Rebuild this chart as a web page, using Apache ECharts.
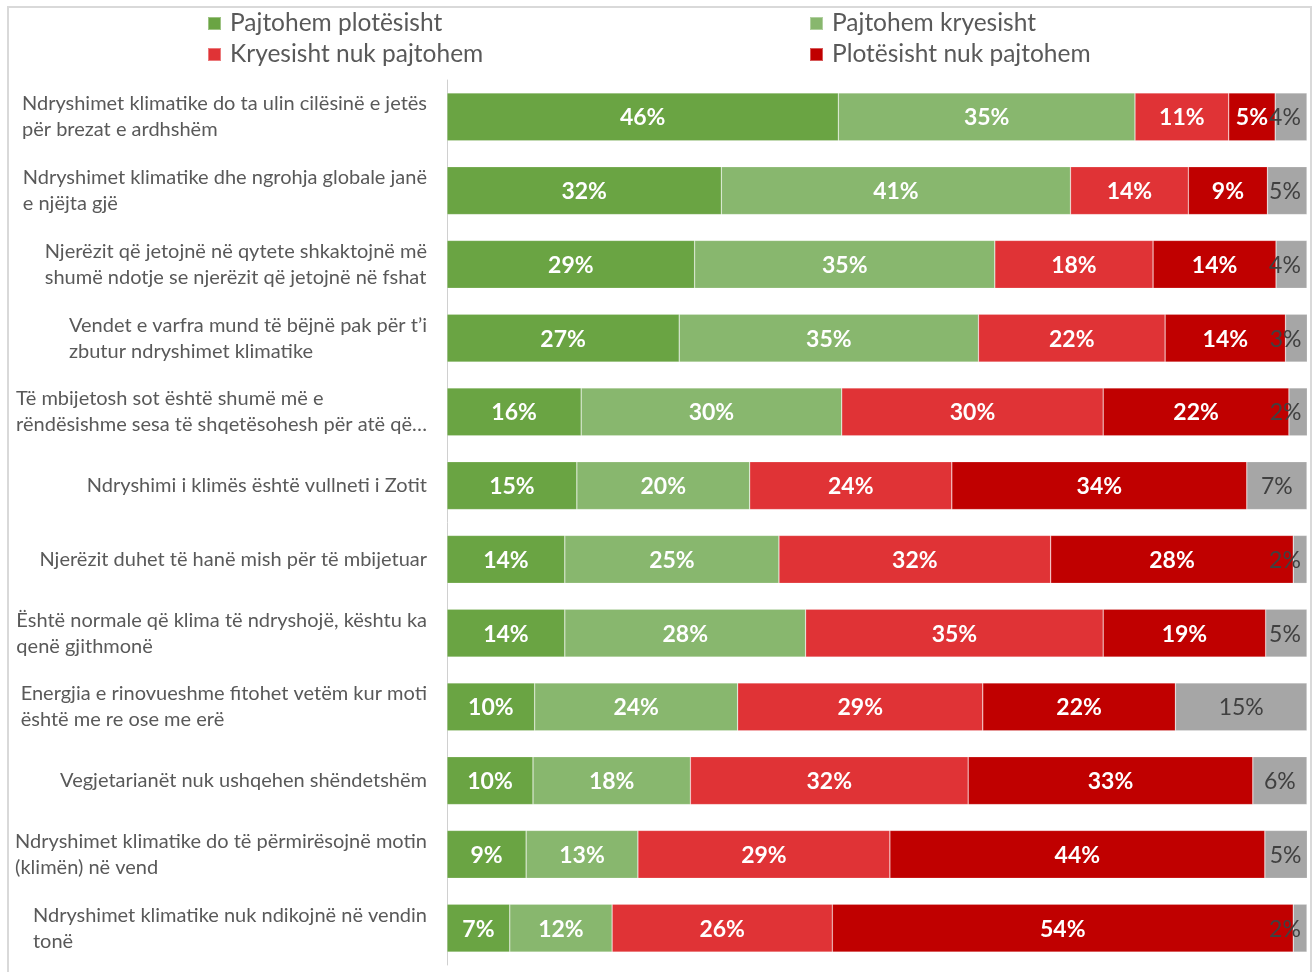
<!DOCTYPE html>
<html>
<head>
<meta charset="utf-8">
<script src="https://cdn.jsdelivr.net/npm/echarts@6/dist/echarts.min.js"></script>
<style>
html,body{margin:0;padding:0;background:#fff;}
#chart{width:1312px;height:972px;}
</style>
</head>
<body>
<div id="chart"></div>
<script>
const categories = [
  "Ndryshimet klimatike do ta ulin cilësinë e jetës\npër brezat e ardhshëm",
  "Ndryshimet klimatike dhe ngrohja globale janë\ne njëjta gjë",
  "Njerëzit që jetojnë në qytete shkaktojnë më\nshumë ndotje se njerëzit që jetojnë në fshat",
  "Vendet e varfra mund të bëjnë pak për t’i\nzbutur ndryshimet klimatike",
  "Të mbijetosh sot është shumë më e\nrëndësishme sesa të shqetësohesh për atë që…",
  "Ndryshimi i klimës është vullneti i Zotit",
  "Njerëzit duhet të hanë mish për të mbijetuar",
  "Është normale që klima të ndryshojë, kështu ka\nqenë gjithmonë",
  "Energjia e rinovueshme fitohet vetëm kur moti\nështë me re ose me erë",
  "Vegjetarianët nuk ushqehen shëndetshëm",
  "Ndryshimet klimatike do të përmirësojnë motin\n(klimën) në vend",
  "Ndryshimet klimatike nuk ndikojnë në vendin\ntonë"
];
const seriesNames = ["Pajtohem plotësisht", "Pajtohem kryesisht", "Kryesisht nuk pajtohem", "Plotësisht nuk pajtohem", "Pa përgjigje"];
const pajtohemPlotesisht   = [45.5, 31.9, 28.8, 27.0, 15.6, 15.1, 13.7, 13.7, 10.2, 10.0, 9.2, 7.3];
const pajtohemKryesisht    = [34.5, 40.6, 34.9, 34.8, 30.3, 20.1, 24.9, 28.0, 23.6, 18.3, 13.0, 11.9];
const kryesishtNukPajtohem = [10.9, 13.7, 18.4, 21.7, 30.4, 23.5, 31.6, 34.6, 28.5, 32.3, 29.3, 25.6];
const plotesishtNukPajtohem= [5.4, 9.2, 14.3, 14.0, 21.6, 34.3, 28.2, 18.9, 22.4, 33.1, 43.6, 53.6];
const paPergjigje          = [3.7, 4.6, 3.6, 2.6, 2.2, 7.0, 1.6, 4.8, 15.3, 6.3, 5.0, 1.6];

const colors = ["#6aa443", "#88b76e", "#e03336", "#c00000", "#a6a6a6"];
const allData = [pajtohemPlotesisht, pajtohemKryesisht, kryesishtNukPajtohem, plotesishtNukPajtohem, paPergjigje];

const FONT = "Lato";
const chart = echarts.init(document.getElementById('chart'), null, {renderer: 'canvas'});

const legendPos = [[207, 11], [809, 11], [207, 42], [809, 42]];
const legends = legendPos.map((p, i) => ({
  data: [seriesNames[i]],
  left: p[0], top: p[1], padding: 0,
  icon: 'rect', itemWidth: 13, itemHeight: 13, itemGap: 0,
  selectedMode: false,
  textStyle: {fontFamily: FONT, fontSize: 24.5, color: '#595959', padding: [0, 0, 0, 4]}
}));

const series = allData.map((d, i) => ({
  name: seriesNames[i],
  type: 'bar',
  stack: 'total',
  barCategoryGap: '35%',
  data: d.slice(),
  itemStyle: {color: colors[i], borderColor: 'rgba(255,255,255,0.35)', borderWidth: 0.6},
  label: {
    show: true,
    position: 'inside',
    offset: [0, 1],
    formatter: p => Math.round(p.value) + '%',
    fontFamily: FONT,
    fontSize: 23,
    fontWeight: i === 4 ? 'normal' : 'bold',
    color: i === 4 ? '#404040' : '#ffffff'
  },
  emphasis: {disabled: true}
}));

const option = {
  animation: false,
  backgroundColor: '#fff',
  graphic: [{
    type: 'rect', silent: true, z: -1,
    shape: {x: 8, y: 7, width: 1303, height: 1000},
    style: {fill: 'none', stroke: '#d9d9d9', lineWidth: 2}
  }],
  legend: legends,
  grid: {left: 447, right: 5, top: 80, bottom: 7, containLabel: false},
  xAxis: {type: 'value', min: 0, max: 100, show: false},
  yAxis: {
    type: 'category',
    data: categories,
    inverse: true,
    axisLine: {show: true, lineStyle: {color: '#d0d0d0', width: 1}},
    axisTick: {show: false},
    axisLabel: {
      margin: 20,
      align: 'right',
      formatter: v => v.split('\n').map(l => '{l|' + l + '}').join('\n'),
      rich: {
        l: {align: 'left', fontFamily: FONT, fontSize: 20, color: '#595959', lineHeight: 26}
      }
    }
  },
  series: series
};
chart.setOption(option);

// Keep the last (grey) labels inside the plot area, like the original
const lastIdx = allData.length - 1;
const rightPx = chart.convertToPixel({xAxisIndex: 0}, 100);
const greyItems = paPergjigje.map((v, k) => {
  const centerPx = chart.convertToPixel({xAxisIndex: 0}, 100 - v / 2);
  const labelHalf = 14;
  const dx = Math.min(0, (rightPx - 8 - labelHalf) - centerPx);
  return {value: v, label: {offset: [dx, 1]}};
});
chart.setOption({series: allData.map((d, i) => i === lastIdx ? {data: greyItems} : {})});
</script>
</body>
</html>
